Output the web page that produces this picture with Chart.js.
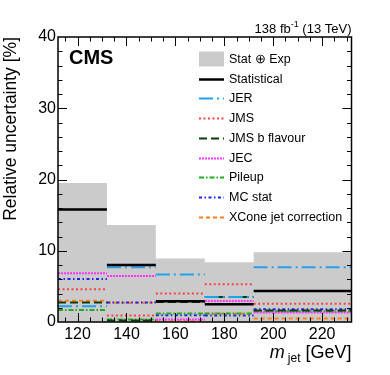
<!DOCTYPE html>
<html>
<head>
<meta charset="utf-8">
<script src="https://cdn.jsdelivr.net/npm/chart.js@4.4.1/dist/chart.umd.min.js"></script>
<style>
  html, body { margin: 0; padding: 0; background: #fff; }
  canvas { display: block; }
</style>
</head>
<body>
<canvas id="uncChart" width="390" height="375"></canvas>
<script>
// bins in m_jet [GeV]
var binEdges = [112, 132, 152, 172, 192, 232];
var xTickValues = [120, 140, 160, 180, 200, 220];

// relative uncertainty per bin [%]
var statExp     = [19.5, 13.6, 8.9, 8.4, 9.8];
var statistical = [15.8, 8.0, 2.9, 2.5, 4.35];
var jer         = [2.2, 7.7, 6.65, 3.5, 7.7];
var jms         = [4.6, 0.9, 4.0, 5.3, 2.55];
var jmsBFlavour = [2.75, 0.2, 2.8, 3.5, 1.6];
var jec         = [6.85, 6.45, 0.35, 2.95, 1.35];
var pileup      = [1.7, 0.35, 1.2, 1.2, 1.5];
var mcStat      = [6.05, 2.75, 0.95, 0.9, 1.8];
var xcone       = [3.0, 2.7, 0.1, 1.15, 0.5];

var FONT = "'Liberation Sans', Arial, Helvetica, sans-serif";

// horizontal segment per bin, no vertical connectors
function segments(vals) {
  var pts = [];
  for (var i = 0; i < vals.length; i++) {
    pts.push({x: binEdges[i], y: vals[i]});
    pts.push({x: binEdges[i + 1], y: vals[i]});
    pts.push({x: binEdges[i + 1], y: null});
  }
  return pts;
}

// filled step histogram
function steps(vals) {
  var pts = [];
  for (var i = 0; i < vals.length; i++) {
    pts.push({x: binEdges[i], y: vals[i]});
  }
  pts.push({x: binEdges[binEdges.length - 1], y: vals[vals.length - 1]});
  return pts;
}

function lineSet(label, vals, color, dash, width) {
  return {
    label: label,
    data: segments(vals),
    borderColor: color,
    borderWidth: width || 2,
    borderDash: dash,
    pointRadius: 0,
    fill: false,
    spanGaps: false,
    order: 0
  };
}

var datasets = [
  lineSet('Statistical', statistical, '#000000', [], 2.5),
  lineSet('JER', jer, '#22a0f0', [14, 4, 2, 4]),
  lineSet('JMS', jms, '#ff4040', [2, 2.5]),
  lineSet('JMS b flavour', jmsBFlavour, '#0b3a0b', [8, 4]),
  lineSet('JEC', jec, '#ff33ff', [2, 1], 2),
  lineSet('Pileup', pileup, '#22aa22', [5, 2, 1.5, 2]),
  lineSet('MC stat', mcStat, '#2222ee', [3, 2.5, 1.5, 2.5]),
  lineSet('XCone jet correction', xcone, '#ff7f1e', [4, 3]),
  {
    label: 'Stat \u2295 Exp',
    data: steps(statExp),
    stepped: true,
    borderWidth: 0,
    borderColor: 'rgba(0,0,0,0)',
    backgroundColor: '#cbcbcb',
    fill: 'origin',
    pointRadius: 0,
    order: 10
  }
];

// frame + inward ticks on all four sides
var frameTicks = {
  id: 'frameTicks',
  afterDatasetsDraw: function(chart) {
    var ctx = chart.ctx, a = chart.chartArea;
    var xs = chart.scales.x, ys = chart.scales.y;
    ctx.save();
    ctx.strokeStyle = '#000';
    ctx.lineWidth = 1;
    ctx.beginPath();
    for (var v = 115; v < xs.max; v += 5) {
      var px = Math.round(xs.getPixelForValue(v)) + 0.5;
      var len = (v % 20 === 0) ? 9 : 4.5;
      ctx.moveTo(px, a.bottom); ctx.lineTo(px, a.bottom - len);
      ctx.moveTo(px, a.top); ctx.lineTo(px, a.top + len);
    }
    for (var w = 2; w < ys.max; w += 2) {
      var py = Math.round(ys.getPixelForValue(w)) + 0.5;
      var l2 = (w % 10 === 0) ? 9 : 4.5;
      ctx.moveTo(a.left, py); ctx.lineTo(a.left + l2, py);
      ctx.moveTo(a.right, py); ctx.lineTo(a.right - l2, py);
    }
    ctx.stroke();
    ctx.lineWidth = 1.5;
    ctx.strokeRect(a.left, a.top, a.right - a.left, a.bottom - a.top);
    ctx.restore();
  }
};

// legend, CMS label, lumi, x title
var decorations = {
  id: 'decorations',
  afterDraw: function(chart) {
    var ctx = chart.ctx, a = chart.chartArea;
    ctx.save();

    // legend
    var lx = 199, tx = 229, y0 = 59, dy = 19.7;
    ctx.font = '12.5px ' + FONT;
    ctx.textBaseline = 'middle';
    ctx.textAlign = 'left';
    ctx.fillStyle = '#cbcbcb';
    ctx.fillRect(lx, y0 - 7.5, 25, 15);
    ctx.fillStyle = '#000';
    ctx.fillText('Stat \u2295 Exp', tx, y0 + 0.5);
    for (var i = 0; i < 8; i++) {
      var ds = chart.data.datasets[i];
      var yy = Math.round(y0 + dy * (i + 1)) + 0.5;
      ctx.beginPath();
      ctx.strokeStyle = ds.borderColor;
      ctx.lineWidth = ds.borderWidth;
      ctx.setLineDash(ds.borderDash);
      ctx.moveTo(lx, yy);
      ctx.lineTo(lx + 25, yy);
      ctx.stroke();
      ctx.setLineDash([]);
      ctx.fillStyle = '#000';
      ctx.fillText(ds.label, tx, yy);
    }

    // CMS
    ctx.font = 'bold 20px ' + FONT;
    ctx.textBaseline = 'alphabetic';
    ctx.fillText('CMS', 69, 64);

    // lumi text, right aligned
    var right = a.right;
    ctx.font = '13px ' + FONT;
    var t3 = ' (13 TeV)';
    var w3 = ctx.measureText(t3).width;
    ctx.font = '9px ' + FONT;
    var t2 = '-1';
    var w2 = ctx.measureText(t2).width;
    ctx.font = '13px ' + FONT;
    var t1 = '138 fb';
    var w1 = ctx.measureText(t1).width;
    var sx = right - w3 - w2 - w1;
    ctx.fillText(t1, sx, 33);
    ctx.font = '9px ' + FONT;
    ctx.fillText(t2, sx + w1, 27);
    ctx.font = '13px ' + FONT;
    ctx.fillText(t3, sx + w1 + w2, 33);

    // x title: m_jet [GeV]
    ctx.font = '18px ' + FONT;
    var g = ' [GeV]';
    var wg = ctx.measureText(g).width;
    ctx.font = '12px ' + FONT;
    var wj = ctx.measureText('jet').width;
    ctx.font = 'italic 18px ' + FONT;
    var wm = ctx.measureText('m ').width;
    var bx = right - wg - wj - wm;
    ctx.fillText('m ', bx + 2, 358);
    ctx.font = '12px ' + FONT;
    ctx.fillText('jet', bx + wm, 362);
    ctx.font = '18px ' + FONT;
    ctx.fillText(g, bx + wm + wj, 358);

    ctx.restore();
  }
};

var ctx = document.getElementById('uncChart');
var chart = new Chart(ctx, {
  type: 'line',
  data: { datasets: datasets },
  options: {
    responsive: false,
    animation: false,
    events: [],
    layout: { padding: { top: 37, right: 38.5, left: 0, bottom: 0 } },
    plugins: {
      legend: { display: false },
      tooltip: { enabled: false }
    },
    scales: {
      x: {
        type: 'linear',
        min: 112,
        max: 232,
        grid: { display: false, drawTicks: false },
        border: { display: false },
        afterBuildTicks: function(scale) {
          scale.ticks = xTickValues.map(function(v) { return {value: v}; });
        },
        afterFit: function(scale) { scale.height = 53; },
        ticks: {
          color: '#000',
          padding: 3,
          maxRotation: 0,
          autoSkip: false,
          font: { family: FONT, size: 16 }
        }
      },
      y: {
        min: 0,
        max: 40,
        grid: { display: false, drawTicks: false },
        border: { display: false },
        afterFit: function(scale) { scale.width = 58; },
        ticks: {
          color: '#000',
          padding: 2,
          stepSize: 10,
          font: { family: FONT, size: 16 }
        },
        title: {
          display: true,
          text: 'Relative uncertainty [%]',
          align: 'end',
          color: '#000',
          padding: { top: 1, bottom: 0 },
          font: { family: FONT, size: 17.5 }
        }
      }
    }
  },
  plugins: [frameTicks, decorations]
});
</script>
</body>
</html>
